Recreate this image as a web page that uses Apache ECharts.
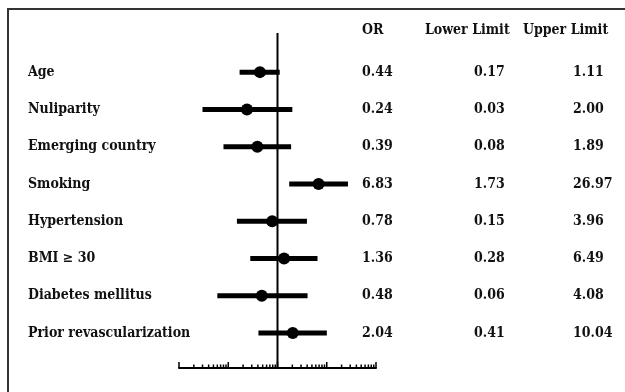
<!DOCTYPE html>
<html>
<head>
<meta charset="utf-8">
<script src="https://cdn.jsdelivr.net/npm/echarts@6/dist/echarts.min.js"></script>
<style>html,body{margin:0;padding:0;background:#fff;}#c{width:625px;height:392px;}</style>
</head>
<body>
<div id="c"></div>
<script>
const names = ['Age','Nuliparity','Emerging country','Smoking','Hypertension','BMI \u2265 30','Diabetes mellitus','Prior revascularization'];
const orValues = [0.44, 0.24, 0.39, 6.83, 0.78, 1.36, 0.48, 2.04];
const lowerValues = [0.17, 0.03, 0.08, 1.73, 0.15, 0.28, 0.06, 0.41];
const upperValues = [1.11, 2.00, 1.89, 26.97, 3.96, 6.49, 4.08, 10.04];
const orLabels = ['0.44','0.24','0.39','6.83','0.78','1.36','0.48','2.04'];
const lowerLabels = ['0.17','0.03','0.08','1.73','0.15','0.28','0.06','0.41'];
const upperLabels = ['1.11','2.00','1.89','26.97','3.96','6.49','4.08','10.04'];
const headers = ['OR','Lower Limit','Upper Limit'];
const decades = [0.01, 0.1, 1, 10];

const FONT = '"DejaVu Serif Condensed", "Liberation Serif", serif';
const FS = 14;
const ticks = [];
decades.forEach(d => { for (let k = 1; k <= 9; k++) ticks.push([+(d * k).toPrecision(3), k === 1 ? 1 : 0]); });
ticks.push([100, 1]);

const rows = names.map((n, i) => [i, lowerValues[i], upperValues[i]]);
const textRows = names.map((n, i) => [1, i]);

const chart = echarts.init(document.getElementById('c'));
chart.setOption({
  animation: false,
  backgroundColor: '#fff',
  grid: { left: 179, right: 249, top: 33, bottom: 24 },
  xAxis: {
    type: 'log', logBase: 10, min: 0.01, max: 100,
    axisLine: { show: true, onZero: false, lineStyle: { color: '#000', width: 2 } },
    axisTick: { show: false }, axisLabel: { show: false }, splitLine: { show: false }
  },
  yAxis: {
    type: 'value', inverse: true, min: -1.05, max: 7.94,
    axisLine: { show: false }, axisTick: { show: false }, axisLabel: { show: false }, splitLine: { show: false }
  },
  graphic: [
    { type: 'rect', shape: { x: 8, y: 9, width: 640, height: 400 }, style: { fill: 'none', stroke: '#333', lineWidth: 2 }, z: 0 },
    { type: 'text', left: 362, top: 23, style: { text: headers[0], font: 'bold ' + FS + 'px ' + FONT, fill: '#111' } },
    { type: 'text', left: 425, top: 23, style: { text: headers[1], font: 'bold ' + FS + 'px ' + FONT, fill: '#111' } },
    { type: 'text', left: 523, top: 23, style: { text: headers[2], font: 'bold ' + FS + 'px ' + FONT, fill: '#111' } }
  ],
  series: [
    {
      type: 'custom', data: ticks, silent: true, z: 3,
      renderItem: function (params, api) {
        const p = api.coord([api.value(0), 7.94]);
        const h = api.value(1) ? 6 : 3.5;
        return { type: 'line', shape: { x1: p[0], y1: p[1], x2: p[0], y2: p[1] - h }, style: { stroke: '#000', lineWidth: 1.5 } };
      }
    },
    {
      type: 'line', data: [[1, -1.05], [1, 7.94]], symbol: 'none', silent: true,
      lineStyle: { color: '#000', width: 2 }, z: 2
    },
    {
      type: 'custom', data: rows, silent: true, z: 4,
      renderItem: function (params, api) {
        const a = api.coord([api.value(1), api.value(0)]);
        const b = api.coord([api.value(2), api.value(0)]);
        return { type: 'line', shape: { x1: a[0], y1: a[1], x2: b[0], y2: b[1] }, style: { stroke: '#000', lineWidth: 5 } };
      },
      encode: { x: [1, 2], y: 0 }
    },
    {
      type: 'scatter', data: orValues.map((v, i) => [v, i]), symbol: 'circle', symbolSize: 12,
      itemStyle: { color: '#000', opacity: 1 }, silent: true, z: 5
    },
    {
      type: 'custom', data: textRows, silent: true, z: 6,
      renderItem: function (params, api) {
        const i = params.dataIndex;
        const y = api.coord([1, api.value(1)])[1];
        const f = 'bold ' + FS + 'px ' + FONT;
        const mk = (x, t) => ({ type: 'text', style: { x: x, y: y, text: t, font: f, fill: '#111', textVerticalAlign: 'middle', textAlign: 'left' } });
        return { type: 'group', children: [
          mk(28, names[i]), mk(362, orLabels[i]), mk(474, lowerLabels[i]), mk(573, upperLabels[i])
        ] };
      }
    }
  ]
});
</script>
</body>
</html>
